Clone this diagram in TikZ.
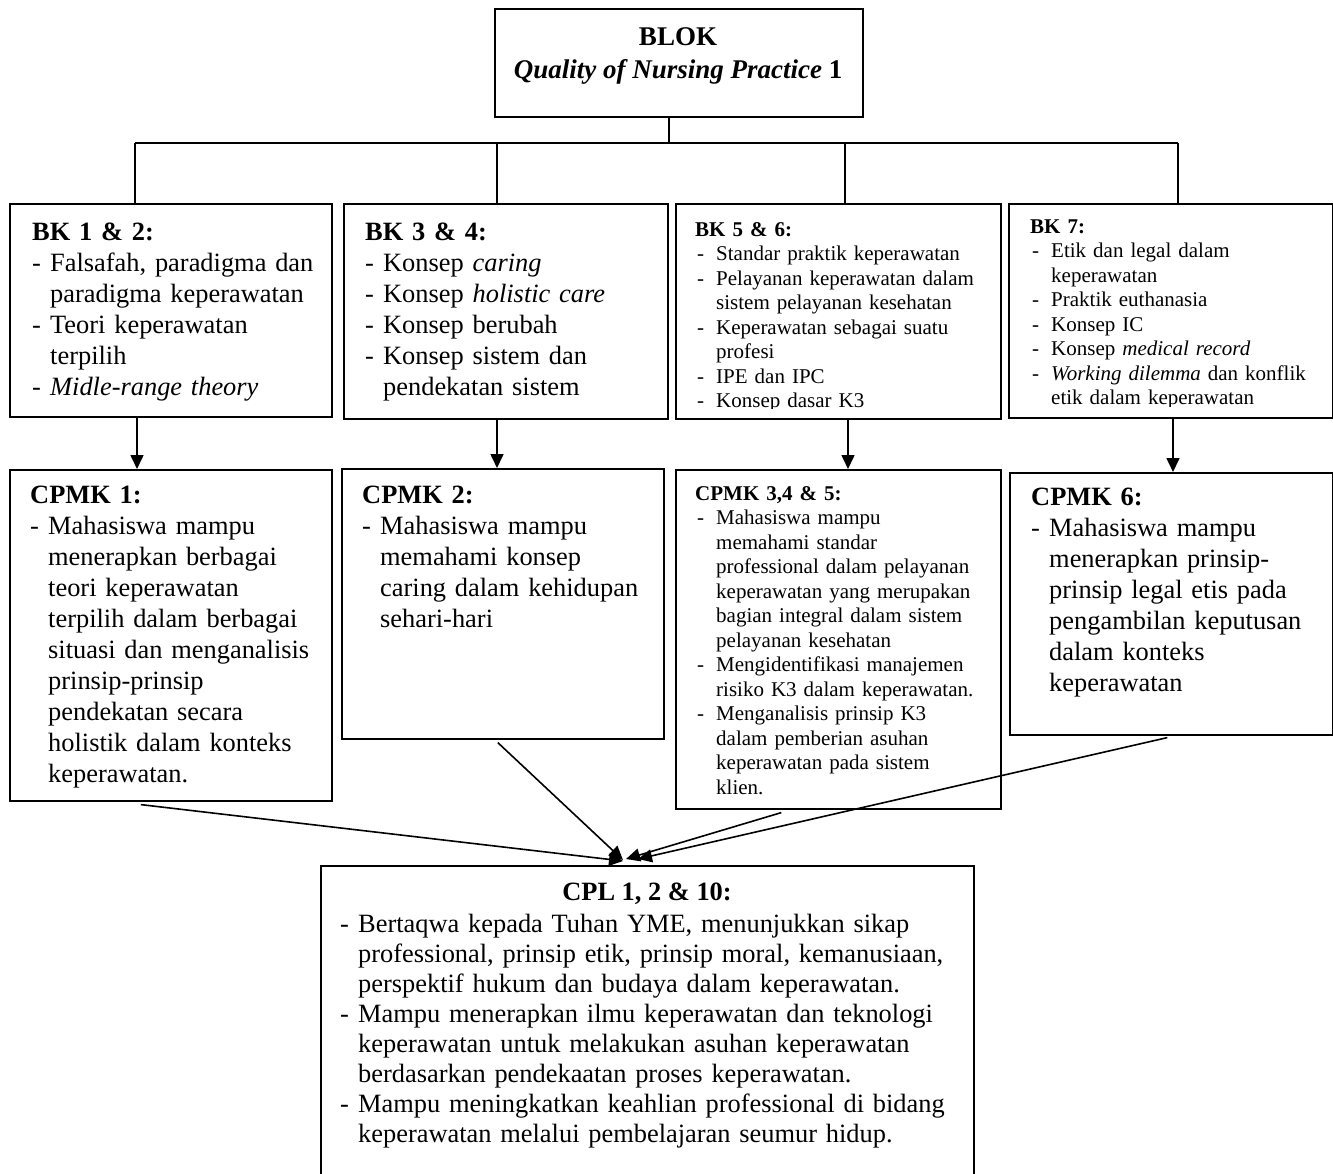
\documentclass[tikz,border=0pt]{standalone}
\usepackage{fontspec}
\setmainfont{Liberation Serif}
\usetikzlibrary{positioning,calc,arrows.meta}
\newlength{\hangw}
\newlength{\dashsk}
\newcommand*{\bigtxt}{\fontsize{26.4}{31}\selectfont\setlength{\hangw}{18pt}\setlength{\dashsk}{0pt}}
\newcommand*{\smalltxt}{\fontsize{21}{24.5}\selectfont\setlength{\hangw}{21pt}\setlength{\dashsk}{2pt}}
% one item of a list, with the dash hanging out
\newcommand*{\itm}[1]{\hangindent=\hangw\hangafter=1\noindent\hbox to\hangw{\hskip\dashsk-\hfil}#1\par}

\begin{document}
\begin{tikzpicture}[x=1pt,y=-1pt,
  box/.style={draw,line width=1.6pt,anchor=north west,inner sep=0pt},
  txt/.style={anchor=base west,inner sep=0pt,align=left,text width=300pt},
  link/.style={line width=1.6pt},
  arr/.style={line width=1.6pt,-{Triangle[length=14pt,width=13pt]}}]
\clip (0,0) rectangle (1333,1173);
% Top box
\node [box,minimum width=368,minimum height=108] (blok) at (494,8) {};
\node [anchor=north,align=center,inner sep=0pt,font=\bfseries\fontsize{27}{33}\selectfont] (blokt) at (678,27)
  {BLOK\\\textit{Quality of Nursing Practice} 1};
% Bus line under the top box
\coordinate (b0) at (669,143);
\coordinate (d1) at (135,143);
\coordinate (d2) at (497,143);
\coordinate (d3) at (845,143);
\coordinate (d4) at (1178,143);
% x of the arrows from BK down to CPMK
\coordinate (a1) at (137,0);
\coordinate (a2) at (497,0);
\coordinate (a3) at (848,0);
\coordinate (a4) at (1173,0);
% Row of BK boxes
\node [box,minimum width=322,minimum height=213] (bk1) at (9,203) {};
\node [box,minimum width=324,minimum height=215] (bk3) at (343,203) {};
\node [box,minimum width=325,minimum height=215] (bk5) at (675,203) {};
\node [box,minimum width=324,minimum height=214] (bk7) at (1008,203) {};
\node [txt,font=\bigtxt] (bk1t) at (32,240) {\textbf{BK 1 \& 2:}\par
  \itm{Falsafah, paradigma dan\newline paradigma keperawatan}
  \itm{Teori keperawatan\newline terpilih}
  \itm{\textit{Midle-range theory}}};
\node [txt,font=\bigtxt] (bk3t) at (365,240) {\textbf{BK 3 \& 4:}\par
  \itm{Konsep \textit{caring}}
  \itm{Konsep \textit{holistic care}}
  \itm{Konsep berubah}
  \itm{Konsep sistem dan\newline pendekatan sistem}};
% Last lines of BK 5 & 6 and BK 7 are cut off by their boxes
\begin{scope}
\clip (bk5.north west) rectangle ($(bk5.south east)+(0,-11)$);
\node [txt,font=\smalltxt] (bk5t) at (695,236) {\textbf{BK 5 \& 6:}\par
  \itm{Standar praktik keperawatan}
  \itm{Pelayanan keperawatan dalam\newline sistem pelayanan kesehatan}
  \itm{Keperawatan sebagai suatu\newline profesi}
  \itm{IPE dan IPC}
  \itm{Konsep dasar K3}};
\end{scope}
\begin{scope}
\clip (bk7.north west) rectangle ($(bk7.south east)+(0,-12)$);
\node [txt,font=\smalltxt] (bk7t) at (1030,233) {\textbf{BK 7:}\par
  \itm{Etik dan legal dalam\newline keperawatan}
  \itm{Praktik euthanasia}
  \itm{Konsep IC}
  \itm{Konsep \textit{medical record}}
  \itm{\textit{Working dilemma} dan konflik\newline etik dalam keperawatan}};
\end{scope}
% Row of CPMK boxes
\node [box,minimum width=322,minimum height=331] (cpmk1) at (9,469) {};
\node [box,minimum width=322,minimum height=270] (cpmk2) at (341,468) {};
\node [box,minimum width=325,minimum height=339] (cpmk3) at (675,469) {};
\node [box,minimum width=323,minimum height=262] (cpmk6) at (1009,472) {};
\node [txt,font=\bigtxt] (cpmk1t) at (30,503) {\textbf{CPMK 1:}\par
  \itm{Mahasiswa mampu\newline menerapkan berbagai\newline teori keperawatan\newline
    terpilih dalam berbagai\newline situasi dan menganalisis\newline prinsip-prinsip\newline
    pendekatan secara\newline holistik dalam konteks\newline keperawatan.}};
\node [txt,font=\bigtxt] (cpmk2t) at (362,503) {\textbf{CPMK 2:}\par
  \itm{Mahasiswa mampu\newline memahami konsep\newline caring dalam kehidupan\newline sehari-hari}};
\node [txt,font=\smalltxt] (cpmk3t) at (695,500) {\textbf{CPMK 3,4 \& 5:}\par
  \itm{Mahasiswa mampu\newline memahami standar\newline professional dalam pelayanan\newline
    keperawatan yang merupakan\newline bagian integral dalam sistem\newline pelayanan kesehatan}
  \itm{Mengidentifikasi manajemen\newline risiko K3 dalam keperawatan.}
  \itm{Menganalisis prinsip K3\newline dalam pemberian asuhan\newline
    keperawatan pada sistem\newline klien.}};
\node [txt,font=\bigtxt] (cpmk6t) at (1031,505) {\textbf{CPMK 6:}\par
  \itm{Mahasiswa mampu\newline menerapkan prinsip-\newline prinsip legal etis pada\newline
    pengambilan keputusan\newline dalam konteks\newline keperawatan}};
% Bottom box, runs past the lower edge
\node [box,minimum width=653,minimum height=330] (cpl) at (320,865) {};
\node [anchor=base,inner sep=0pt,font=\bfseries\fontsize{26.4}{30}\selectfont] (cplh) at (647,900) {CPL 1, 2 \& 10:};
\node [txt,text width=620pt,font=\fontsize{26.4}{30}\selectfont\setlength{\hangw}{18pt}\setlength{\dashsk}{0pt}] (cplt) at (340,932)
  {\itm{Bertaqwa kepada Tuhan YME, menunjukkan sikap\newline
    professional, prinsip etik, prinsip moral, kemanusiaan,\newline
    perspektif hukum dan budaya dalam keperawatan.}
  \itm{Mampu menerapkan ilmu keperawatan dan teknologi\newline
    keperawatan untuk melakukan asuhan keperawatan\newline
    berdasarkan pendekaatan proses keperawatan.}
  \itm{Mampu meningkatkan keahlian professional di bidang\newline
    keperawatan melalui pembelajaran seumur hidup.}};
% Tree lines from the top box
\draw [link] (b0 |- blok.south) -- (b0);
\draw [link] (d1) -- (d4);
\draw [link] (d1) -- (d1 |- bk1.north);
\draw [link] (d2) -- (d2 |- bk3.north);
\draw [link] (d3) -- (d3 |- bk5.north);
\draw [link] (d4) -- (d4 |- bk7.north);
% BK down to CPMK
\draw [arr] (a1 |- bk1.south) -- (a1 |- cpmk1.north);
\draw [arr] (a2 |- bk3.south) -- (a2 |- cpmk2.north);
\draw [arr] (a3 |- bk5.south) -- (a3 |- cpmk3.north);
\draw [arr] (a4 |- bk7.south) -- (a4 |- cpmk6.north);
% CPMK into CPL
\coordinate (e1) at (623,861);
\coordinate (e2) at (623,860);
\coordinate (e3) at (626,859);
\coordinate (e4) at (638,859);
\draw [arr] ([xshift=-30pt,yshift=-3pt]cpmk1.south) -- (e1);
\draw [arr] ([xshift=-5pt,yshift=-3pt]cpmk2.south) -- (e2);
\draw [arr] ([xshift=-57pt,yshift=-3pt]cpmk3.south) -- (e3);
\draw [arr] ([xshift=-4pt,yshift=-2pt]cpmk6.south) -- (e4);
\end{tikzpicture}
\end{document}
